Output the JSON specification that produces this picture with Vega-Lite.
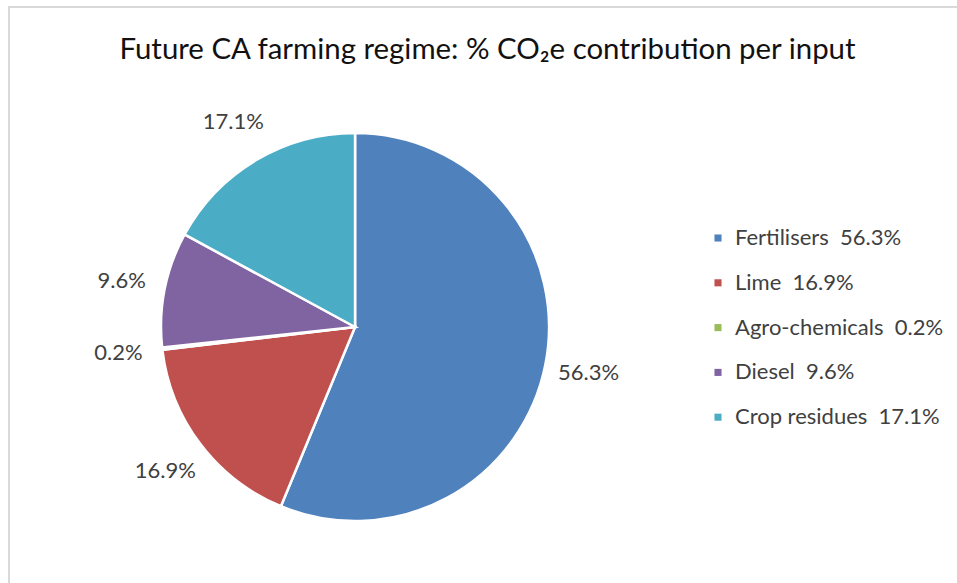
{
  "$schema": "https://vega.github.io/schema/vega-lite/v6.json",
  "width": 957,
  "height": 590,
  "autosize": {"type": "none"},
  "padding": {"left": 9, "top": 7, "right": 0, "bottom": 0},
  "background": "white",
  "view": {"stroke": "#d9d9d9", "strokeWidth": 2},
  "config": {
    "view": {"stroke": "#d9d9d9", "strokeWidth": 2},
    "style": {
      "view": {"stroke": "#d9d9d9", "strokeWidth": 2},
      "cell": {"stroke": "#d9d9d9", "strokeWidth": 2}
    }
  },
  "title": {
    "text": "Future CA farming regime: % CO₂e contribution per input",
    "font": "Lato",
    "fontSize": 29.4,
    "fontWeight": "normal",
    "color": "#111111",
    "orient": "top",
    "anchor": "middle",
    "baseline": "alphabetic",
    "offset": -52,
    "dy": 29
  },
  "data": {
    "values": [
      {"input": "Fertilisers", "label": "Fertilisers\u00a0 56.3%", "share": 56.3, "pct": "56.3%", "order": 1},
      {"input": "Lime", "label": "Lime\u00a0 16.9%", "share": 16.9, "pct": "16.9%", "order": 2},
      {"input": "Agro-chemicals", "label": "Agro-chemicals\u00a0 0.2%", "share": 0.2, "pct": "0.2%", "order": 3},
      {"input": "Diesel", "label": "Diesel\u00a0 9.6%", "share": 9.6, "pct": "9.6%", "order": 4},
      {"input": "Crop residues", "label": "Crop residues\u00a0 17.1%", "share": 17.1, "pct": "17.1%", "order": 5}
    ]
  },
  "encoding": {
    "theta": {"field": "share", "type": "quantitative", "stack": true},
    "order": {"field": "order", "type": "quantitative"}
  },
  "layer": [
    {
      "mark": {
        "type": "arc",
        "radius": 194,
        "x": {"expr": "width*0.3616"},
        "y": {"expr": "height*0.5424"},
        "stroke": "white",
        "strokeWidth": 2.5
      },
      "encoding": {
        "color": {
          "field": "label",
          "type": "nominal",
          "sort": {"field": "order"},
          "scale": {
            "domain": ["Fertilisers\u00a0 56.3%", "Lime\u00a0 16.9%", "Agro-chemicals\u00a0 0.2%", "Diesel\u00a0 9.6%", "Crop residues\u00a0 17.1%"],
            "range": ["#4F81BD", "#C0504D", "#9BBB59", "#8064A2", "#4BACC6"]
          },
          "legend": {
            "orient": "none",
            "legendX": 698,
            "legendY": 220,
            "title": null,
            "labelFont": "Lato",
            "labelFontSize": 22,
            "labelColor": "#404040",
            "labelLimit": 0,
            "symbolType": "square",
            "symbolSize": 50,
            "symbolStrokeWidth": 0,
            "rowPadding": 22.8,
            "labelOffset": 6
          }
        }
      }
    },
    {
      "mark": {
        "type": "text",
        "radius": 238,
        "x": {"expr": "width*0.3616"},
        "y": {"expr": "height*0.5424"},
        "font": "Lato",
        "fontSize": 22,
        "color": "#404040",
        "align": "center",
        "baseline": "middle"
      },
      "encoding": {
        "text": {"field": "pct", "type": "nominal"}
      }
    }
  ]
}
